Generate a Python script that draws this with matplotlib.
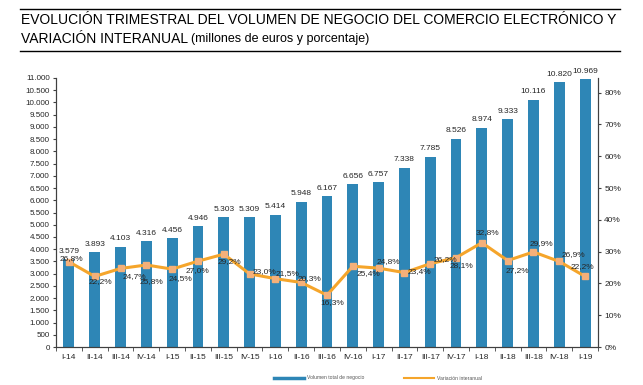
import numpy as np
import matplotlib.pyplot as plt
from matplotlib.lines import Line2D

quarters = ['I-14', 'II-14', 'III-14', 'IV-14', 'I-15', 'II-15', 'III-15', 'IV-15',
            'I-16', 'II-16', 'III-16', 'IV-16', 'I-17', 'II-17', 'III-17', 'IV-17',
            'I-18', 'II-18', 'III-18', 'IV-18', 'I-19']
volume = [3579, 3893, 4103, 4316, 4456, 4946, 5303, 5309, 5414, 5948, 6167,
          6656, 6757, 7338, 7785, 8526, 8974, 9333, 10116, 10820, 10969]
variation = [26.8, 22.2, 24.7, 25.8, 24.5, 27.0, 29.2, 23.0, 21.5, 20.3, 16.3,
             25.4, 24.8, 23.4, 26.2, 28.1, 32.8, 27.2, 29.9, 26.9, 22.2]

# label offsets (points) for the percentage labels
pct_offsets = [(2, 2), (4, -4), (10, -6), (4, -12), (6, -7), (0, -7), (4, -5), (11, 2),
               (9, 4), (6, 3), (4, -5), (11, -5), (7, 5), (11, 1), (11, 3), (4, -6),
               (4, 7), (7, -7), (6, 6), (10, 5), (-2, 7)]

plt.rcParams['font.family'] = ['Liberation Sans', 'DejaVu Sans']

BLUE = '#2e86b6'
ORANGE = '#f5a52b'
MARK = '#f4b07a'
AXC = '#404040'

fig = plt.figure(figsize=(6.43, 3.85), dpi=100)
ax = fig.add_axes([56 / 643, 38 / 385, 542 / 643, 269 / 385])
ax2 = ax.twinx()

x = np.arange(len(quarters))
ax.bar(x, volume, width=0.42, color=BLUE, zorder=2)
for xi, v in zip(x, volume):
    ax.annotate(f'{v:,}'.replace(',', '.'), (xi, v), xytext=(0, 3), textcoords='offset points',
                ha='center', va='bottom', fontsize=6, color='#262626')

ax.set_xlim(-0.5, len(quarters) - 0.5)
ax.set_ylim(0, 11000)
ax.set_yticks(np.arange(0, 11001, 500))
ax.set_yticklabels([f'{v:,}'.replace(',', '.') for v in range(0, 11001, 500)])
ax.set_xticks(x)
ax.set_xticklabels(quarters)
ax.set_xticks(np.arange(-0.5, len(quarters), 1), minor=True)
ax.tick_params(axis='x', which='major', length=0, labelsize=6, colors='#262626', pad=5)
ax.tick_params(axis='x', which='minor', length=3, color=AXC)
ax.tick_params(axis='y', length=2.5, labelsize=5.8, colors='#262626', pad=2, color=AXC)

ax2.plot(x, variation, color=ORANGE, lw=2.2, marker='s', ms=4.5,
         mfc=MARK, mec=MARK, zorder=3)
for xi, p, off in zip(x, variation, pct_offsets):
    ax2.annotate(f'{p:.1f}%'.replace('.', ','), (xi, p), xytext=off, textcoords='offset points',
                 ha='center', va='center', fontsize=6, color='#262626', zorder=4)
ax2.set_ylim(0, 11000 / 130)
ax2.set_yticks(np.arange(0, 81, 10))
ax2.set_yticklabels([f'{v}%' for v in range(0, 81, 10)])
ax2.tick_params(axis='y', length=2.5, labelsize=6, colors='#262626', pad=2, color=AXC)

for a in (ax, ax2):
    a.spines['top'].set_visible(False)
    for s in ('left', 'right', 'bottom'):
        a.spines[s].set_color(AXC)
        a.spines[s].set_linewidth(0.8)
ax.set_zorder(ax2.get_zorder() - 1)
ax2.patch.set_visible(False)
ax.patch.set_visible(False)

# legend
handles = [Line2D([], [], color=BLUE, lw=2.5), Line2D([], [], color=ORANGE, lw=1.5)]
fig.legend(handles, ['Volumen total de negocio', 'Variación interanual'],
           loc='center', bbox_to_anchor=(378 / 643, 1 - 378 / 385), ncol=2, frameon=False,
           fontsize=3.6, handlelength=6, columnspacing=8, handletextpad=0.6,
           labelcolor='#555555')

# title with rules
fig.add_artist(Line2D([20 / 643, 620 / 643], [1 - 9 / 385] * 2, color='black', lw=1))
fig.add_artist(Line2D([20 / 643, 620 / 643], [1 - 51 / 385] * 2, color='black', lw=1))
t1 = fig.text(21 / 643, 1 - 20 / 385,
              'EVOLUCIÓN TRIMESTRAL DEL VOLUMEN DE NEGOCIO DEL COMERCIO ELECTRÓNICO Y',
              fontsize=10, va='center', ha='left')
renderer = fig.canvas.get_renderer()
w = t1.get_window_extent(renderer).width
fs = 10 * 597 / w
t1.set_fontsize(fs)
t2 = fig.text(21 / 643, 1 - 39 / 385, 'VARIACIÓN INTERANUAL', fontsize=fs, va='center', ha='left')
x2 = t2.get_window_extent(renderer).x1
fig.text(x2 / 643 + 3 / 643, 1 - 39 / 385, '(millones de euros y porcentaje)',
         fontsize=fs * 0.9, va='center', ha='left')

fig.savefig('out.png', dpi=100)
